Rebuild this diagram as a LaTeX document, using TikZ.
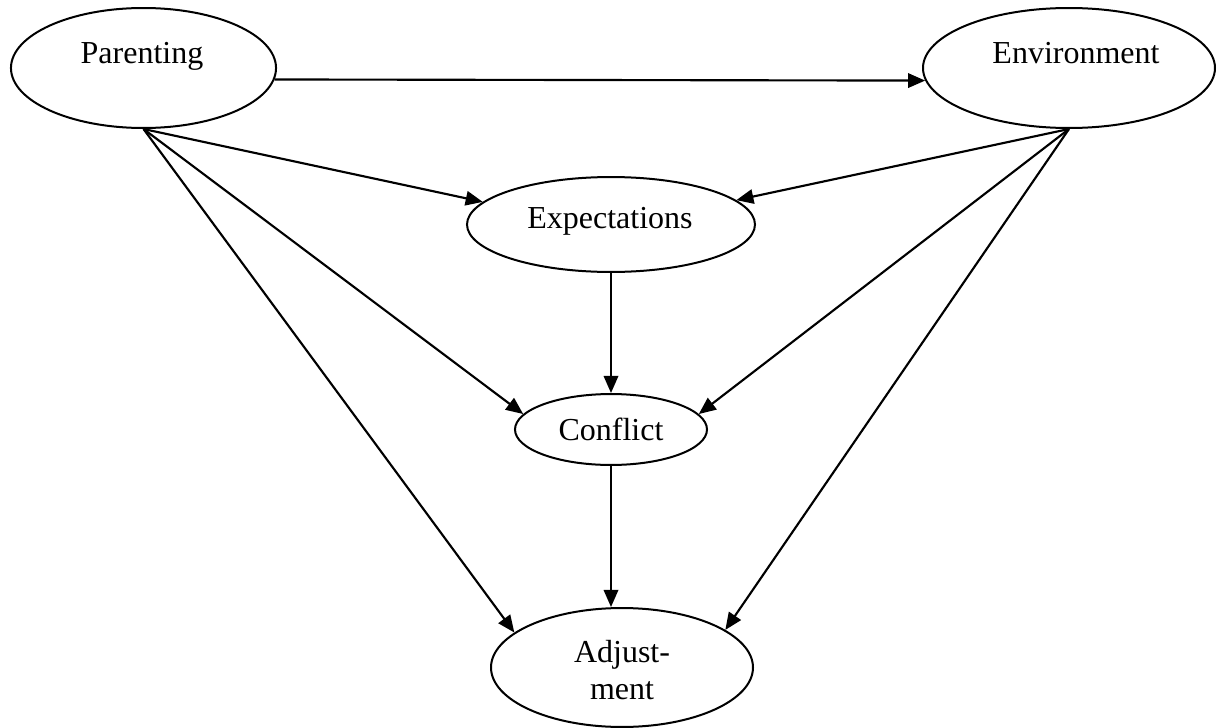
\documentclass[tikz,border=0pt]{standalone}
\usepackage{fontspec}
\setmainfont{Liberation Serif}
\usetikzlibrary{shapes.geometric, arrows.meta}

\begin{document}
\begin{tikzpicture}[x=0.375pt, y=-0.375pt,
        stage/.style={draw=black, line width=0.75pt, ellipse, inner sep=0pt},
        lbl/.style={font=\fontsize{12}{13.9}\selectfont, inner sep=0pt},
        arr/.style={line width=0.8pt, -{Triangle[length=6.4pt, width=5.4pt]}}]
    \useasboundingbox (0,0) rectangle (1219,728);
    % the five ellipses
    \node[stage, minimum width=99.4pt, minimum height=45pt] (par) at (143.5,68) {};
    \node[stage, minimum width=109.5pt, minimum height=45pt] (env) at (1069,68) {};
    \node[stage, minimum width=108pt, minimum height=35.6pt] (exp) at (611,224.5) {};
    \node[stage, minimum width=72pt, minimum height=26.6pt] (con) at (611,429.5) {};
    \node[stage, minimum width=98.25pt, minimum height=44.6pt] (adj) at (622,667.5) {};
    % their texts
    \node[lbl, anchor=base] (partext) at (142,63) {Parenting};
    \node[lbl, anchor=base] (envtext) at (1076,63) {Environment};
    \node[lbl, anchor=base] (exptext) at (610,228) {Expectations};
    \node[lbl, anchor=base] (context) at (611,440) {Conflict};
    \node[lbl, align=center] (adjtext) at (622,670.5) {Adjust-\\ment};
    % paths
    \draw[arr] (par.-5.7) -- (env.185.2);
    \draw[arr] (par.south) -- (exp.170);
    \draw[arr] (par.south) -- (con.170);
    \draw[arr] (par.south) -- (adj.162);
    \draw[arr] (env.south) -- (exp.11);
    \draw[arr] (env.south) -- (con.10);
    \draw[arr] (env.south) -- (adj.20);
    \draw[arr] (exp.south) -- (con.north);
    \draw[arr] (con.south) -- (con.south |- adj.north);
\end{tikzpicture}
\end{document}
